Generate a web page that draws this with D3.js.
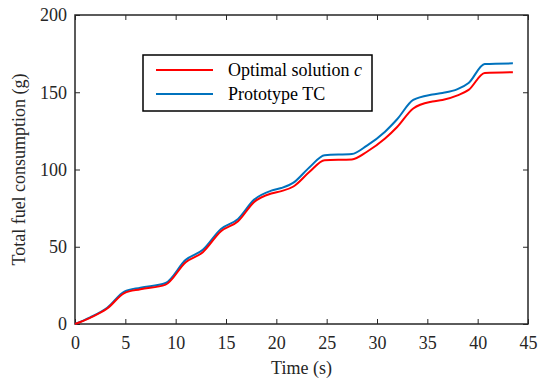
<!DOCTYPE html>
<html>
<head>
<meta charset="utf-8">
<script src="https://cdn.jsdelivr.net/npm/d3@7"></script>
<style>
  body { margin: 0; background: #fff; }
  svg, svg text { font-family: "Liberation Serif", "Times New Roman", Times, serif !important; }
</style>
</head>
<body>
<div id="chart"></div>
<script>
const time = [0, 1.5, 3.2, 4.9, 6.5, 9.0, 11.0, 12.7, 14.5, 16.2, 17.8, 19.5, 20.5, 21.7, 23.3, 24.8, 27.5, 29, 30.8, 32, 33.6, 35.5, 36.5, 38, 39.1, 40.7, 43.5];
const optimal = [0, 4, 10, 20, 22.5, 25.5, 40, 46.5, 60, 66.5, 79, 84.5, 86, 89, 98.5, 106, 106.5, 111.5, 120, 127.5, 139.5, 144, 145, 148, 151.5, 162.5, 163];
const prototype = [0, 4.3, 10.5, 21, 23.5, 26.5, 41.5, 48, 61.5, 68, 80.5, 86.3, 88, 91.5, 101.5, 109.3, 110, 115.5, 124.5, 132.5, 145, 148.5, 149.5, 152, 156, 168.3, 168.7];
const xTicks = [0, 5, 10, 15, 20, 25, 30, 35, 40, 45];
const yTicks = [0, 50, 100, 150, 200];

const width = 550;
const height = 383;
const margin = {top: 15, right: 22, bottom: 59, left: 75};
const ink = '#262626';
const fontSize = '18px';

const svg = d3.select('#chart')
  .append('svg')
  .attr('width', width)
  .attr('height', height);

const x = d3.scaleLinear()
  .domain([0, 45])
  .range([margin.left, width - margin.right]);

const y = d3.scaleLinear()
  .domain([0, 200])
  .range([height - margin.bottom, margin.top]);

const line = d3.line()
  .x(d => x(d[0]))
  .y(d => y(d[1]))
  .curve(d3.curveMonotoneX);

// axes, ticks pointing inward on all sides
function styleAxis(g) {
  g.attr('font-size', fontSize).attr('font-family', null);
  g.selectAll('.domain').remove();
  g.selectAll('line').attr('stroke', ink);
  g.selectAll('text').attr('fill', ink);
}

svg.append('g')
  .attr('transform', `translate(0, ${y(0)})`)
  .call(d3.axisBottom(x).tickValues(xTicks).tickSize(-5).tickPadding(12))
  .call(styleAxis);

svg.append('g')
  .attr('transform', `translate(${x(0)}, 0)`)
  .call(d3.axisLeft(y).tickValues(yTicks).tickSize(-5).tickPadding(8))
  .call(styleAxis);

svg.append('g')
  .attr('transform', `translate(0, ${y(200)})`)
  .call(d3.axisTop(x).tickValues(xTicks).tickSize(-5).tickFormat(''))
  .call(styleAxis);

svg.append('g')
  .attr('transform', `translate(${x(45)}, 0)`)
  .call(d3.axisRight(y).tickValues(yTicks).tickSize(-5).tickFormat(''))
  .call(styleAxis);

// frame
svg.append('rect')
  .attr('x', x(0))
  .attr('y', y(200))
  .attr('width', x(45) - x(0))
  .attr('height', y(0) - y(200))
  .attr('fill', 'none')
  .attr('stroke', ink)
  .attr('stroke-width', 1.5);

// lines
svg.append('path')
  .datum(time.map((t, i) => [t, prototype[i]]))
  .attr('d', line)
  .attr('fill', 'none')
  .attr('stroke', '#0072BD')
  .attr('stroke-width', 2);

svg.append('path')
  .datum(time.map((t, i) => [t, optimal[i]]))
  .attr('d', line)
  .attr('fill', 'none')
  .attr('stroke', '#FF0000')
  .attr('stroke-width', 2);

// axis labels
svg.append('text')
  .attr('x', (x(0) + x(45)) / 2)
  .attr('y', 374)
  .attr('text-anchor', 'middle')
  .attr('font-size', fontSize)
  .attr('fill', ink)
  .text('Time (s)');

svg.append('text')
  .attr('transform', `translate(25, ${(y(0) + y(200)) / 2}) rotate(-90)`)
  .attr('text-anchor', 'middle')
  .attr('font-size', fontSize)
  .attr('fill', ink)
  .text('Total fuel consumption (g)');

// legend
const legend = svg.append('g');
legend.append('rect')
  .attr('x', 143).attr('y', 55)
  .attr('width', 229).attr('height', 56)
  .attr('fill', '#fff')
  .attr('stroke', '#000')
  .attr('stroke-width', 1.5);

const items = [
  {label: 'Optimal solution ', italic: 'c', color: '#FF0000'},
  {label: 'Prototype TC', italic: '', color: '#0072BD'}
];

items.forEach((d, i) => {
  const cy = 70 + i * 24;
  legend.append('line')
    .attr('x1', 156).attr('x2', 213)
    .attr('y1', cy).attr('y2', cy)
    .attr('stroke', d.color)
    .attr('stroke-width', 2);
  const t = legend.append('text')
    .attr('x', 228).attr('y', cy + 6)
    .attr('font-size', fontSize)
    .attr('fill', '#000');
  t.append('tspan').text(d.label);
  if (d.italic) t.append('tspan').attr('font-style', 'italic').text(d.italic);
});
</script>
</body>
</html>
